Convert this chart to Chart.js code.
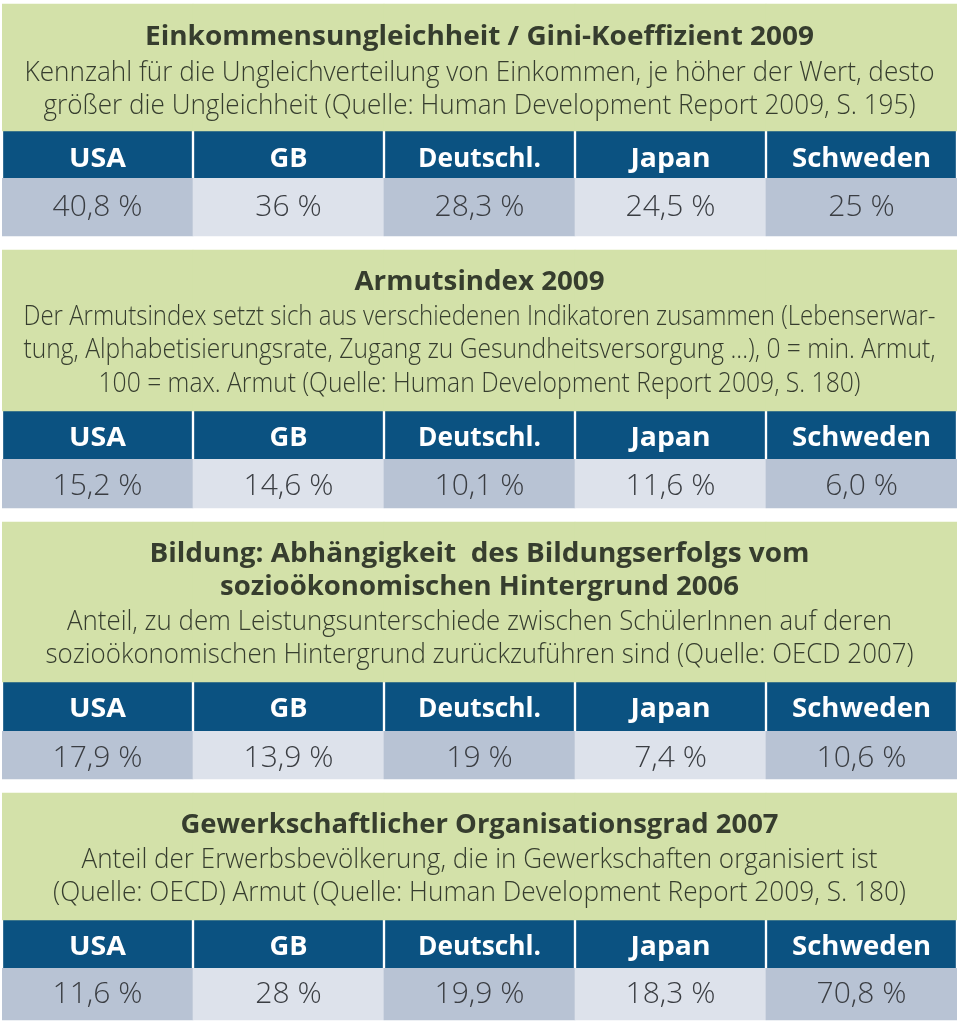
<!DOCTYPE html>
<html><head><meta charset="utf-8">
<script src="https://cdn.jsdelivr.net/npm/chart.js@4.4.1/dist/chart.umd.min.js"></script>
<style>html,body{margin:0;padding:0;background:#fff;overflow:hidden}#wrap{width:960px;height:1025px;position:relative}</style>
</head><body><div id="wrap"><canvas id="c" width="960" height="1025"></canvas></div>
<script>
// ---------- DATA ----------
const countries = ['USA', 'GB', 'Deutschl.', 'Japan', 'Schweden'];
const giniValues = [40.8, 36, 28.3, 24.5, 25];
const povertyValues = [15.2, 14.6, 10.1, 11.6, 6.0];
const educationValues = [17.9, 13.9, 19, 7.4, 10.6];
const unionValues = [11.6, 28, 19.9, 18.3, 70.8];

const giniTitle = ['Einkommensungleichheit / Gini-Koeffizient 2009'];
const giniNotes = ['Kennzahl für die Ungleichverteilung von Einkommen, je höher der Wert, desto',
                   'größer die Ungleichheit (Quelle: Human Development Report 2009, S. 195)'];
const povertyTitle = ['Armutsindex 2009'];
const povertyNotes = ['Der Armutsindex setzt sich aus verschiedenen Indikatoren zusammen (Lebenserwar-',
                      'tung, Alphabetisierungsrate, Zugang zu Gesundheitsversorgung ...), 0 = min. Armut,',
                      '100 = max. Armut (Quelle: Human Development Report 2009, S. 180)'];
const educationTitle = ['Bildung: Abhängigkeit  des Bildungserfolgs vom',
                        'sozioökonomischen Hintergrund 2006'];
const educationNotes = ['Anteil, zu dem Leistungsunterschiede zwischen SchülerInnen auf deren',
                        'sozioökonomischen Hintergrund zurückzuführen sind (Quelle: OECD 2007)'];
const unionTitle = ['Gewerkschaftlicher Organisationsgrad 2007'];
const unionNotes = ['Anteil der Erwerbsbevölkerung, die in Gewerkschaften organisiert ist',
                    '(Quelle: OECD) Armut (Quelle: Human Development Report 2009, S. 180)'];

// ---------- LAYOUT / STYLE ----------
const panels = [
  { values: giniValues, minDigits: 0, title: giniTitle, notes: giniNotes,
    band: [4, 131, 178, 236], titleY: [45], titleW: [669], notesY: [81, 114], notesW: [910, 872], headY: 167, valY: 216 },
  { values: povertyValues, minDigits: 1, title: povertyTitle, notes: povertyNotes,
    band: [250, 411, 459, 508], titleY: [290], titleW: [250], notesY: [325, 358, 392], notesW: [912, 912, 762], headY: 446, valY: 495 },
  { values: educationValues, minDigits: 0, title: educationTitle, notes: educationNotes,
    band: [522, 682, 731, 779], titleY: [562, 595], titleW: [660, 519], notesY: [630, 663], notesW: [825, 868], headY: 717, valY: 767 },
  { values: unionValues, minDigits: 0, title: unionTitle, notes: unionNotes,
    band: [793, 920, 968, 1020], titleY: [833], titleW: [598], notesY: [868, 901], notesW: [796, 853], headY: 955, valY: 1003 }
];
const headW = [57, 38, 123, 80, 139];
const GREEN = '#d3e1a9', BLUE = '#0b5281', CELL_DARK = '#b8c3d4', CELL_LIGHT = '#dde2eb';
const TXT = '#363d2e', VAL_TXT = '#3a3d42';
const FONT = '"Open Sans", "Noto Sans", sans-serif';

const fmt = (v, d) => v.toLocaleString('de-DE', { minimumFractionDigits: d, maximumFractionDigits: 1 }) + ' %';

const datasets = [];
panels.forEach((p) => {
  const [top, head, val, bot] = p.band;
  datasets.push({ data: countries.map(() => [top, head]), backgroundColor: GREEN, borderWidth: 0 });
  datasets.push({ data: countries.map(() => [head, val]), backgroundColor: BLUE,
    borderColor: '#ffffff', borderWidth: { left: 1.5, right: 1.5, top: 0, bottom: 0 }, borderSkipped: false });
  datasets.push({ data: countries.map(() => [val, bot]),
    backgroundColor: countries.map((c, i) => i % 2 === 0 ? CELL_DARK : CELL_LIGHT), borderWidth: 0 });
});

function drawFit(ctx, text, cx, y, font, targetW, color) {
  ctx.save();
  ctx.font = font;
  ctx.fillStyle = color;
  ctx.textAlign = 'center';
  ctx.textBaseline = 'alphabetic';
  const w = ctx.measureText(text).width;
  let sx = targetW ? targetW / w : 1;
  sx = Math.max(0.75, Math.min(1.3, sx));
  ctx.translate(cx, y);
  ctx.scale(sx, 1);
  ctx.fillText(text, 0, 0);
  ctx.restore();
}

const textPlugin = {
  id: 'tableText',
  afterDatasetsDraw(chart) {
    const ctx = chart.ctx, xs = chart.scales.x, ys = chart.scales.y;
    const midX = (chart.chartArea.left + chart.chartArea.right) / 2;
    panels.forEach((p) => {
      p.title.forEach((t, i) => drawFit(ctx, t, midX, ys.getPixelForValue(p.titleY[i]), 'bold 26px ' + FONT, p.titleW[i], TXT));
      p.notes.forEach((t, i) => drawFit(ctx, t, midX, ys.getPixelForValue(p.notesY[i]), '300 28px ' + FONT, p.notesW[i], TXT));
      countries.forEach((c, i) => {
        const cx = xs.getPixelForValue(i);
        drawFit(ctx, c, cx, ys.getPixelForValue(p.headY), 'bold 26px ' + FONT, headW[i], '#ffffff');
        drawFit(ctx, fmt(p.values[i], p.minDigits), cx, ys.getPixelForValue(p.valY), '300 30px ' + FONT, null, VAL_TXT);
      });
    });
  }
};

new Chart(document.getElementById('c'), {
  type: 'bar',
  data: { labels: countries, datasets },
  options: {
    responsive: false,
    animation: false,
    events: [],
    layout: { padding: { left: 2, right: 3, top: 0, bottom: 0 } },
    datasets: { bar: { grouped: false, categoryPercentage: 1, barPercentage: 1 } },
    plugins: { legend: { display: false }, tooltip: { enabled: false } },
    scales: {
      x: { display: false, offset: true },
      y: { display: false, min: 0, max: 1025, reverse: true }
    }
  },
  plugins: [textPlugin]
});
</script>
</body></html>
